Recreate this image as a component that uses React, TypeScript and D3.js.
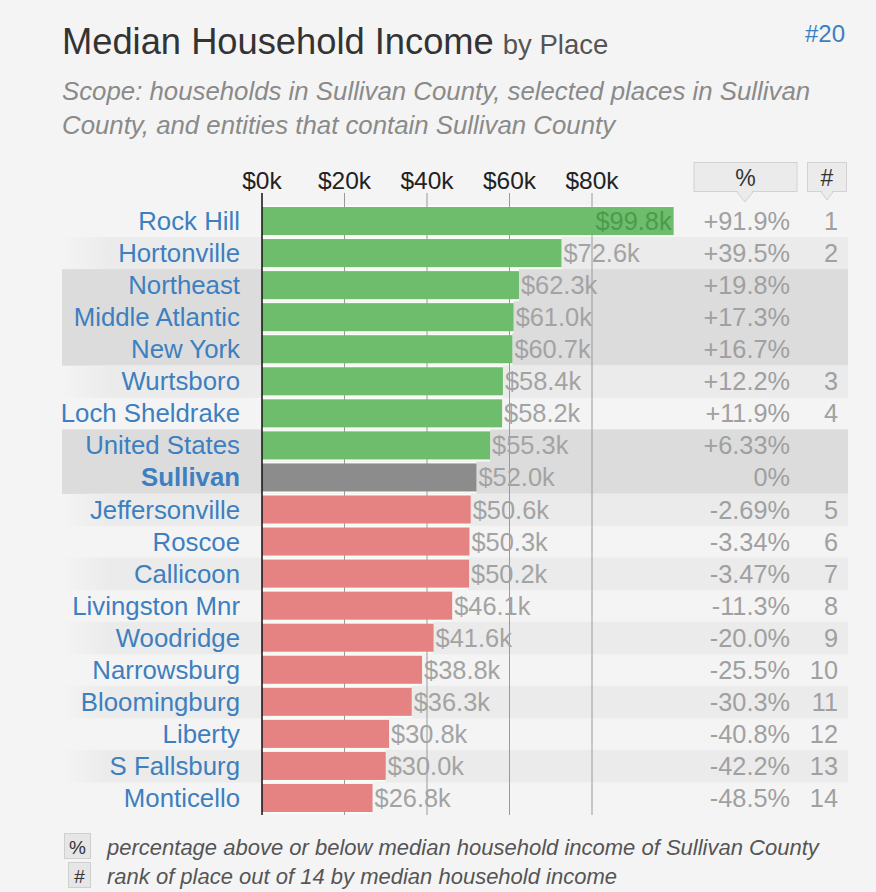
import React from "react";
import * as d3 from "d3";

const places = ["Rock Hill","Hortonville","Northeast","Middle Atlantic","New York","Wurtsboro","Loch Sheldrake","United States","Sullivan","Jeffersonville","Roscoe","Callicoon","Livingston Mnr","Woodridge","Narrowsburg","Bloomingburg","Liberty","S Fallsburg","Monticello"];
const incomes = [99.8,72.6,62.3,61.0,60.7,58.4,58.2,55.3,52.0,50.6,50.3,50.2,46.1,41.6,38.8,36.3,30.8,30.0,26.8];
const pctLabels = ["+91.9%","+39.5%","+19.8%","+17.3%","+16.7%","+12.2%","+11.9%","+6.33%","0%","-2.69%","-3.34%","-3.47%","-11.3%","-20.0%","-25.5%","-30.3%","-40.8%","-42.2%","-48.5%"];
const ranks = ["1","2","","","","3","4","","","5","6","7","8","9","10","11","12","13","14"];
const regions = ["Northeast","Middle Atlantic","New York","United States","Sullivan"];
const reference = "Sullivan";
const tickValues = [0,20,40,60,80];

const W = 876, H = 892;
const FONT = "'Liberation Sans', Arial, sans-serif";

export default function App() {
  const x = d3.scaleLinear().domain([0, 100]).range([262, 674.5]);
  const y = d3.scaleBand<string>().domain(places).range([205, 814]).paddingInner(0.125).paddingOuter(0.0625);
  const step = y.step();
  const rowTop = (p: string) => (y(p) as number) - (step - y.bandwidth()) / 2;
  const bw = y.bandwidth();
  const ref = incomes[places.indexOf(reference)];
  const color = (p: string, v: number) => p === reference ? "#8c8c8c" : v > ref ? "#6dbd6d" : "#e58282";

  return (
    <svg width={W} height={H} style={{ position: "absolute", left: 0, top: 0, display: "block" }} fontFamily={FONT}>
      <defs>
        <linearGradient id="fadeD" x1="0" x2="1" y1="0" y2="0">
          <stop offset="0" stopColor="#ebebeb" stopOpacity="0" />
          <stop offset="0.06" stopColor="#ebebeb" stopOpacity="1" />
          <stop offset="1" stopColor="#ebebeb" stopOpacity="1" />
        </linearGradient>
      </defs>
      <rect x={0} y={0} width={W} height={H} fill="#f4f4f4" />
      {/* title */}
      <text x={62} y={54} fontSize={36.3} fill="#333">Median Household Income<tspan fontSize={27.5} fill="#555" dx={9}>by Place</tspan></text>
      <text x={845} y={42} fontSize={24} fill="#3a7fc1" textAnchor="end">#20</text>
      <text x={62} y={100} fontSize={25.8} fill="#8a8a8a" fontStyle="italic">Scope: households in Sullivan County, selected places in Sullivan</text>
      <text x={62} y={134} fontSize={25.8} fill="#8a8a8a" fontStyle="italic">County, and entities that contain Sullivan County</text>

      {/* row backgrounds */}
      {places.map((p, i) => {
        const isReg = regions.includes(p);
        if (!isReg && i % 2 === 0) return null;
        return <rect key={"bg" + p} x={62} y={rowTop(p)} width={786} height={step + 0.5} fill={isReg ? "#dcdcdc" : "url(#fadeD)"} />;
      })}

      {/* header boxes */}
      <rect x={694} y={162.5} width={103} height={29} fill="#ebebeb" stroke="#d2d2d2" />
      <path d="M737,192 L745,202 L753,192" fill="#ebebeb" stroke="#d2d2d2" />
      <line x1={738} x2={752} y1={192} y2={192} stroke="#ebebeb" strokeWidth={2} />
      <text x={745.5} y={186} fontSize={23} fill="#333" textAnchor="middle">%</text>
      <rect x={807.5} y={162.5} width={39} height={29} fill="#ebebeb" stroke="#d2d2d2" />
      <path d="M821,192 L827,200 L833,192" fill="#ebebeb" stroke="#d2d2d2" />
      <line x1={822} x2={832} y1={192} y2={192} stroke="#ebebeb" strokeWidth={2} />
      <text x={827} y={186} fontSize={23} fill="#333" textAnchor="middle">#</text>

      {/* tick labels */}
      {tickValues.map(t => (
        <text key={"t" + t} x={x(t)} y={189} fontSize={24.5} fill="#222" textAnchor="middle">{`$${t}k`}</text>
      ))}

      {/* white under-bars */}
      {places.map((p, i) => (
        <rect key={"w" + p} x={x(0)} y={rowTop(p)} width={x(incomes[i]) - x(0)} height={step} fill="#fafaf6" />
      ))}
      {/* gridlines */}
      {tickValues.filter(t => t > 0).map(t => (
        <line key={"g" + t} x1={x(t)} x2={x(t)} y1={193} y2={815} stroke="#9a9a9a" strokeWidth={1} />
      ))}
      {/* bars */}
      {places.map((p, i) => (
        <rect key={"b" + p} x={x(0)} y={y(p)} width={x(incomes[i]) - x(0)} height={bw} fill={color(p, incomes[i])} />
      ))}
      <line x1={x(0)} x2={x(0)} y1={193} y2={815} stroke="#111" strokeWidth={1.5} />

      {/* labels */}
      {places.map((p, i) => {
        const cy = (y(p) as number) + bw / 2 + 9;
        const v = incomes[i];
        const inside = x(v) > 600;
        return (
          <g key={"l" + p}>
            <text x={240} y={cy} fontSize={25.8} textAnchor="end" fill="#3d7fbf" fontWeight={p === reference ? "bold" : "normal"}>{p}</text>
            <text x={inside ? x(v) - 2 : x(v) + 2} y={cy} fontSize={25.4} textAnchor={inside ? "end" : "start"} fill={inside ? "#4c9a4c" : "#a3a3a3"}>{`$${v.toFixed(1)}k`}</text>
            <text x={790} y={cy} fontSize={25.3} textAnchor="end" fill="#a0a0a0">{pctLabels[i]}</text>
            <text x={838} y={cy} fontSize={25.3} textAnchor="end" fill="#a0a0a0">{ranks[i]}</text>
          </g>
        );
      })}

      {/* footer */}
      <rect x={64.5} y={833.5} width={26} height={25} fill="#e6e6e6" stroke="#cfcfcf" />
      <text x={77.5} y={854} fontSize={19} fill="#333" textAnchor="middle">%</text>
      <text x={107} y={855} fontSize={22} fill="#555" fontStyle="italic">percentage above or below median household income of Sullivan County</text>
      <rect x={68.5} y={862.5} width={22} height={25} fill="#e6e6e6" stroke="#cfcfcf" />
      <text x={79.5} y={883} fontSize={19} fill="#333" textAnchor="middle">#</text>
      <text x={107} y={884} fontSize={22} fill="#555" fontStyle="italic">rank of place out of 14 by median household income</text>
    </svg>
  );
}
